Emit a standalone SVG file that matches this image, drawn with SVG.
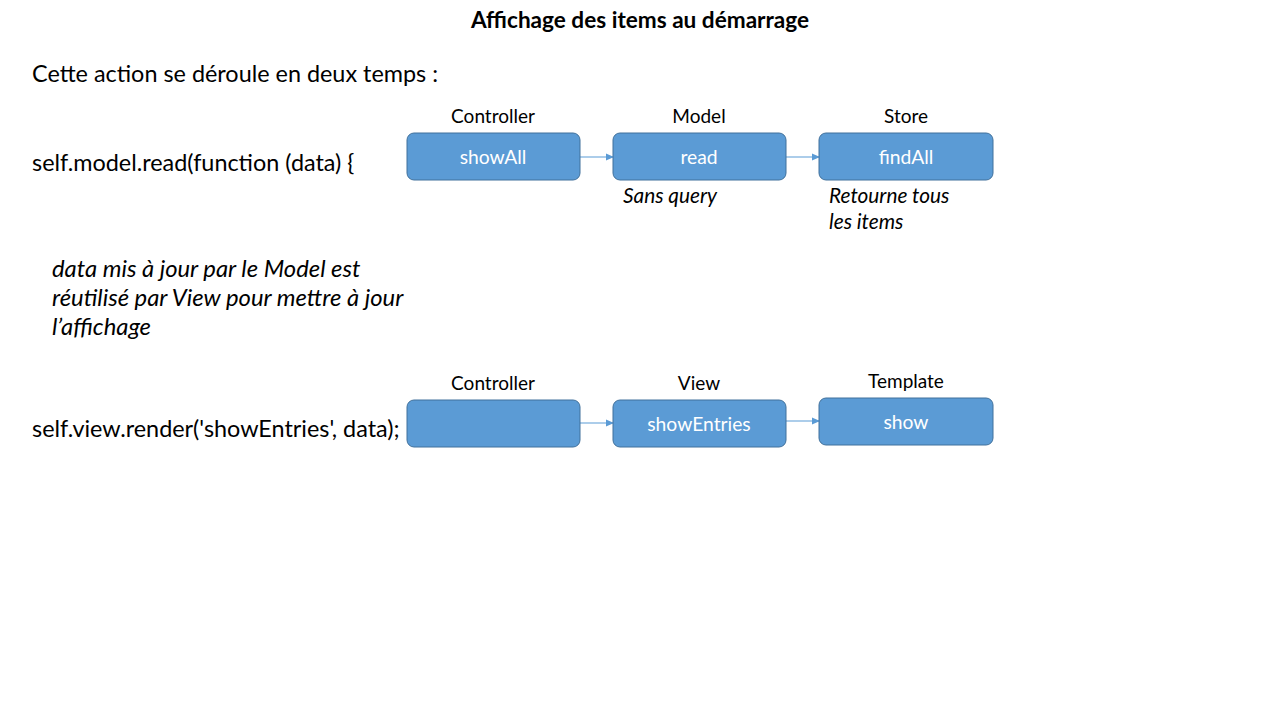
<svg xmlns="http://www.w3.org/2000/svg" width="1280" height="720" viewBox="0 0 1280 720">
<style>
text{font-family:Lato,"Open Sans","Liberation Sans",sans-serif;fill:#000}
.t{font-size:23.4px}
.lbl{font-size:19px;text-anchor:middle}
.bx{fill:#5B9BD5;stroke:#41719C;stroke-width:1}
.bt{font-size:19.3px;fill:#fff;text-anchor:middle}
.it{font-style:italic;font-size:20.8px}
.it2{font-style:italic;font-size:23.8px}
.ln{stroke:#5B9BD5;stroke-width:1.2;fill:none;marker-end:url(#a)}
</style>
<defs>
<marker id="a" markerWidth="8" markerHeight="8" refX="7" refY="4" orient="auto" markerUnits="userSpaceOnUse">
<path d="M0,0.5 L8,4 L0,7.5 z" fill="#5B9BD5"/>
</marker>
</defs>
<rect width="1280" height="720" fill="#fff"/>
<text x="640" y="28" style="font-size:22.6px;font-weight:bold;text-anchor:middle">Affichage des items au démarrage</text>
<text class="t" x="32" y="82">Cette action se déroule en deux temps :</text>
<text class="t" x="32" y="171">self.model.read(function (data) {</text>
<text class="it2" x="52" y="277">data mis à jour par le Model est</text>
<text class="it2" x="52" y="306">réutilisé par View pour mettre à jour</text>
<text class="it2" x="52" y="335">l’affichage</text>
<text class="t" x="32" y="437">self.view.render('showEntries', data);</text>
<g id="connectors">
<line class="ln" x1="580" y1="157" x2="613" y2="157"/>
<line class="ln" x1="786" y1="157" x2="819" y2="157"/>
<line class="ln" x1="580" y1="423" x2="613" y2="423"/>
<line class="ln" x1="786" y1="421" x2="819" y2="421"/>
</g>
<g id="controller1">
<text class="lbl" x="493" y="123">Controller</text>
<rect class="bx" x="407" y="133" width="173" height="47" rx="7"/>
<text class="bt" x="493" y="164">showAll</text>
</g>
<g id="model">
<text class="lbl" x="699" y="123">Model</text>
<rect class="bx" x="613" y="133" width="173" height="47" rx="7"/>
<text class="bt" x="699" y="164">read</text>
<text class="it" x="623" y="203">Sans query</text>
</g>
<g id="store">
<text class="lbl" x="906" y="123">Store</text>
<rect class="bx" x="819" y="133" width="174" height="47" rx="7"/>
<text class="bt" x="906" y="164">findAll</text>
<text class="it" x="829" y="203">Retourne tous</text>
<text class="it" x="829" y="229">les items</text>
</g>
<g id="controller2">
<text class="lbl" x="493" y="390">Controller</text>
<rect class="bx" x="407" y="400" width="173" height="47" rx="7"/>
</g>
<g id="view">
<text class="lbl" x="699" y="390">View</text>
<rect class="bx" x="613" y="400" width="173" height="47" rx="7"/>
<text class="bt" x="699" y="431">showEntries</text>
</g>
<g id="template">
<text class="lbl" x="906" y="388">Template</text>
<rect class="bx" x="819" y="398" width="174" height="47" rx="7"/>
<text class="bt" x="906" y="429">show</text>
</g>
</svg>
